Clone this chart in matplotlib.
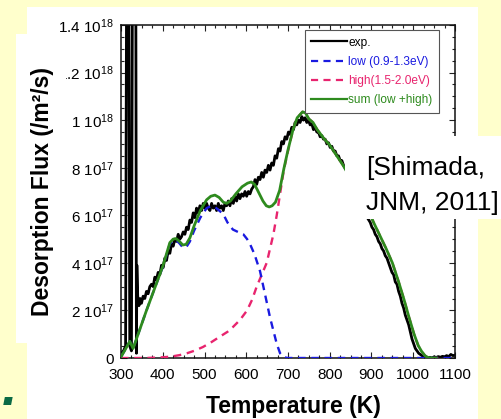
import matplotlib
matplotlib.use("Agg")
import matplotlib.pyplot as plt
from matplotlib.patches import Rectangle
import numpy as np

plt.rcParams['font.family'] = ['Liberation Sans', 'DejaVu Sans']
plt.rcParams['mathtext.fontset'] = 'custom'
plt.rcParams['mathtext.rm'] = 'Liberation Sans'
plt.rcParams['mathtext.default'] = 'regular'

SCALE = 1e17

# ---- data (values in units of 1e17 /m^2/s) ----
exp_T = [300, 306, 311, 314, 318, 321, 325, 328, 332, 335, 337, 338, 340, 343, 346, 349, 353, 357,
         361, 365, 369, 373, 377, 381, 385, 389, 393, 397, 401, 405, 409, 413, 417, 421, 425, 429,
         433, 437, 441, 445, 449, 453, 457, 461, 465, 469, 473, 477, 481, 485, 489, 493, 497, 501,
         505, 509, 513, 517, 521, 525, 529, 533, 537, 541, 545, 549, 553, 557, 561, 565, 569, 573,
         577, 581, 585, 589, 593, 597, 601, 605, 609, 613, 617, 621, 625, 629, 633, 637, 641, 645,
         649, 653, 657, 661, 665, 669, 673, 677, 681, 685, 689, 693, 697, 701, 705, 709, 713, 717,
         721, 725, 729, 733, 737, 741, 745, 749, 753, 757, 761, 765, 769, 773, 777, 781, 785, 789,
         793, 797, 801, 805, 809, 813, 817, 821, 825, 829, 833, 840, 850, 860, 870, 880, 890, 897,
         901, 905, 909, 913, 917, 921, 925, 929, 933, 937, 941, 945, 949, 953, 957, 961, 965, 969,
         973, 977, 981, 985, 989, 993, 997, 1001, 1005, 1009, 1013, 1017, 1021, 1025, 1030, 1035,
         1040, 1045, 1050, 1055, 1060, 1065, 1070, 1075, 1080, 1085, 1090, 1095, 1100]
exp_v = [0.2, 0.3, 0.5, 20, 20, 0.5, 0.3, 20, 20, 20, 0.2, 3.9, 2.6, 2.2, 2.5, 2.3, 2.6, 2.5,
         2.8, 2.7, 3.0, 3.1, 3.0, 3.4, 3.3, 3.6, 3.5, 3.9, 3.8, 4.2, 4.1, 4.5, 4.4, 4.8, 4.7, 5.0,
         4.9, 5.2, 5.0, 5.1, 5.3, 5.2, 5.5, 5.4, 5.8, 5.7, 6.1, 5.9, 6.3, 6.1, 6.4, 6.2, 6.5, 6.3,
         6.5, 6.3, 6.2, 6.5, 6.3, 6.4, 6.2, 6.5, 6.3, 6.4, 6.2, 6.5, 6.4, 6.6, 6.4, 6.7, 6.5, 6.8,
         6.6, 6.9, 6.7, 6.9, 6.8, 7.0, 6.8, 7.0, 6.9, 7.1, 7.2, 7.5, 7.3, 7.6, 7.5, 7.8, 7.6, 7.9,
         7.8, 8.1, 7.9, 8.2, 8.1, 8.5, 8.4, 8.8, 8.7, 9.1, 9.0, 9.3, 9.2, 9.5, 9.4, 9.7, 9.6, 9.9,
         9.8, 10.0, 9.9, 10.15, 10.0, 10.1, 9.9, 10.0, 9.8, 9.85, 9.6, 9.7, 9.5, 9.5, 9.3, 9.35, 9.2, 9.2,
         9.0, 9.05, 8.85, 8.9, 8.7, 8.7, 8.5, 8.5, 8.3, 8.3, 8.1, 7.9, 7.5, 7.1, 6.7, 6.3, 5.9, 5.7,
         5.5, 5.4, 5.2, 5.1, 4.9, 4.8, 4.6, 4.5, 4.3, 4.2, 4.0, 3.8, 3.6, 3.5, 3.2, 3.1, 2.8, 2.6,
         2.3, 2.1, 1.8, 1.6, 1.4, 1.1, 0.8, 0.6, 0.4, 0.3, 0.2, 0.15, 0.1, 0.05, 0.02, 0.0,
         0.03, 0.0, 0.05, 0.02, 0.06, 0.03, 0.07, 0.05, 0.1, 0.06, 0.15, 0.1, 0.12]

low_T = [300, 310, 321, 329, 340, 360, 380, 400, 417, 425, 432, 440, 448, 456, 465, 475, 490, 505,
         515, 525, 535, 545, 555, 568, 580, 593, 602, 610, 620, 633, 641, 649, 657, 665, 673, 681,
         690, 700, 1100]
low_v = [0.05, 0.35, 0.7, 0.4, 0.95, 1.95, 2.9, 3.82, 4.8, 4.95, 4.95, 4.82, 4.65, 4.65, 4.9, 5.35, 5.9, 6.3,
         6.38, 6.35, 6.2, 6.05, 5.7, 5.4, 5.3, 5.2, 5.0, 4.75, 4.35, 3.65, 3.0, 2.35, 1.7, 1.15, 0.6, 0.2,
         0.03, 0.0, 0.0]

high_T = [300, 360, 400, 420, 440, 458, 475, 496, 515, 537, 555, 568, 585, 602, 614, 625, 637, 649,
          657, 665, 673, 681, 690, 700, 712, 722, 735, 742, 750, 760, 770, 785, 800, 815, 832, 850,
          870, 890, 905, 920, 935, 950, 965, 978, 990, 1002, 1012, 1020, 1028, 1035, 1045, 1060]
high_v = [0.0, 0.0, 0.03, 0.06, 0.12, 0.2, 0.3, 0.46, 0.65, 0.9, 1.1, 1.3, 1.6, 2.0, 2.45, 3.0, 3.5, 4.0,
          4.6, 5.2, 6.0, 6.9, 7.9, 8.7, 9.6, 10.1, 10.35, 10.3, 10.05, 9.9, 9.6, 9.25, 8.95, 8.55, 8.1, 7.55,
          6.95, 6.3, 5.7, 5.15, 4.6, 4.0, 3.2, 2.45, 1.7, 1.0, 0.52, 0.28, 0.1, 0.02, 0.0, 0.0]

sum_T = [300, 310, 321, 329, 340, 360, 380, 400, 417, 425, 432, 440, 448, 456, 465, 475, 490, 505,
         515, 525, 535, 545, 553, 562, 575, 590, 603, 612, 620, 630, 640, 648, 655, 662, 670, 680,
         690, 700, 712, 722, 735, 742, 750, 760, 770, 785, 800, 815, 832, 850, 870, 890, 905, 920,
         935, 950, 965, 978, 990, 1002, 1012, 1020, 1028, 1035, 1045, 1055]
sum_v = [0.05, 0.35, 0.7, 0.4, 0.95, 1.95, 2.9, 3.85, 4.85, 5.0, 5.02, 4.9, 4.75, 4.78, 5.05, 5.55, 6.2, 6.65,
         6.8, 6.85, 6.75, 6.55, 6.5, 6.6, 6.9, 7.2, 7.35, 7.4, 7.3, 6.95, 6.6, 6.4, 6.35, 6.4, 6.55, 7.05,
         7.95, 8.75, 9.6, 10.1, 10.35, 10.3, 10.05, 9.9, 9.6, 9.25, 8.95, 8.55, 8.1, 7.55, 6.95, 6.3, 5.7, 5.15,
         4.6, 4.0, 3.2, 2.45, 1.7, 1.0, 0.52, 0.28, 0.1, 0.02, 0.0, 0.0]

labels = ['exp.', 'low (0.9-1.3eV)', 'high(1.5-2.0eV)', 'sum (low +high)']
x_ticks = [300, 400, 500, 600, 700, 800, 900, 1000, 1100]
y_ticks = [0, 2e17, 4e17, 6e17, 8e17, 1e18, 1.2e18, 1.4e18]
y_ticklabels = ['0', r'2 $10^{17}$', r'4 $10^{17}$', r'6 $10^{17}$', r'8 $10^{17}$',
                r'1 $10^{18}$', r'1.2 $10^{18}$', r'1.4 $10^{18}$']

C_BLACK = '#000000'
C_BLUE = '#1a1ae0'
C_PINK = '#e8246e'
C_GREEN = '#2e8b1e'

W, H = 502, 419
fig = plt.figure(figsize=(W / 100, H / 100), dpi=100, facecolor='#ffffcc')

def fx(px):
    return px / W

def fy(py):
    return 1 - py / H

# white pasted picture regions
fig.patches.append(Rectangle((fx(27), 0), fx(478) - fx(27), fy(7), transform=fig.transFigure,
                             facecolor='white', edgecolor='none', zorder=-1))

ax = fig.add_axes([fx(121), fy(358), fx(455) - fx(121), fy(25) - fy(358)])
ax.set_facecolor('white')

ax.plot(np.array(exp_T), np.array(exp_v) * SCALE, color=C_BLACK, lw=2.0, label=labels[0], zorder=2)
ax.plot(np.array(high_T), np.array(high_v) * SCALE, color=C_PINK, lw=1.7, dashes=(3.2, 2.4),
        label=labels[2], zorder=3)
ax.plot(np.array(low_T), np.array(low_v) * SCALE, color=C_BLUE, lw=1.7, dashes=(3.2, 2.4),
        label=labels[1], zorder=4)
ax.plot(np.array(sum_T), np.array(sum_v) * SCALE, color=C_GREEN, lw=2.0, label=labels[3], zorder=5)

ax.set_xlim(300, 1100)
ax.set_ylim(0, 1.4e18)
ax.set_xticks(x_ticks)
ax.set_xticklabels([str(t) for t in x_ticks])
ax.set_xticks(np.arange(300, 1101, 25), minor=True)
ax.set_yticks(y_ticks)
ax.set_yticklabels(y_ticklabels)
ax.set_yticks(np.arange(0, 1.41e18, 5e16), minor=True)
ax.tick_params(which='both', direction='in', top=True, right=True, width=0.8, color='#222222')
ax.tick_params(which='major', length=4.5, labelsize=11)
ax.tick_params(which='minor', length=2.5)
ax.tick_params(axis='x', which='major', pad=7)
ax.tick_params(axis='y', which='major', pad=5)
for sp in ax.spines.values():
    sp.set_linewidth(1.1)
    sp.set_color('#111111')

handles, labs = ax.get_legend_handles_labels()
order = [labs.index(l) for l in labels]
leg = ax.legend([handles[i] for i in order], [labs[i] for i in order],
                loc='upper right', bbox_to_anchor=(0.952, 0.985), borderaxespad=0,
                fontsize=8.6, handlelength=3.0, handletextpad=0.1, labelspacing=0.6,
                borderpad=0.55, fancybox=False, framealpha=1, edgecolor='#555555')
leg.get_frame().set_linewidth(0.8)
leg_colors = [C_BLACK, C_BLUE, C_PINK, C_GREEN]
for txt, c in zip(leg.get_texts(), leg_colors):
    txt.set_color(c)
for line in leg.get_lines():
    line.set_linewidth(1.6)

# y-label box (covers part of the 1.2 label as in the slide)
fig.patches.append(Rectangle((fx(16), fy(343)), fx(66) - fx(16), fy(34) - fy(343),
                             transform=fig.transFigure, facecolor='white', edgecolor='none', zorder=5))
fig.text(fx(43), fy(191), 'Desorption Flux (/m²/s)', rotation=90, ha='center', va='center',
         fontsize=16.5, fontweight='bold', zorder=6)

fig.text(fx(293), fy(413), 'Temperature (K)', ha='center', va='baseline',
         fontsize=16.5, fontweight='bold', zorder=6)

# citation box
fig.patches.append(Rectangle((fx(345), fy(219)), fx(502) - fx(345), fy(136) - fy(219),
                             transform=fig.transFigure, facecolor='white', edgecolor='none', zorder=5))
fig.text(fx(366), fy(175), '[Shimada,', ha='left', va='baseline', fontsize=19, zorder=6)
fig.text(fx(366), fy(210), 'JNM, 2011]', ha='left', va='baseline', fontsize=19, zorder=6)

# slide text fragment
fig.text(fx(2), fy(405), '.', ha='left', va='baseline', fontsize=40, fontweight='bold',
         fontstyle='italic', color='#0b6b45', zorder=6)

fig.savefig('out.png', dpi=100, facecolor=fig.get_facecolor())
